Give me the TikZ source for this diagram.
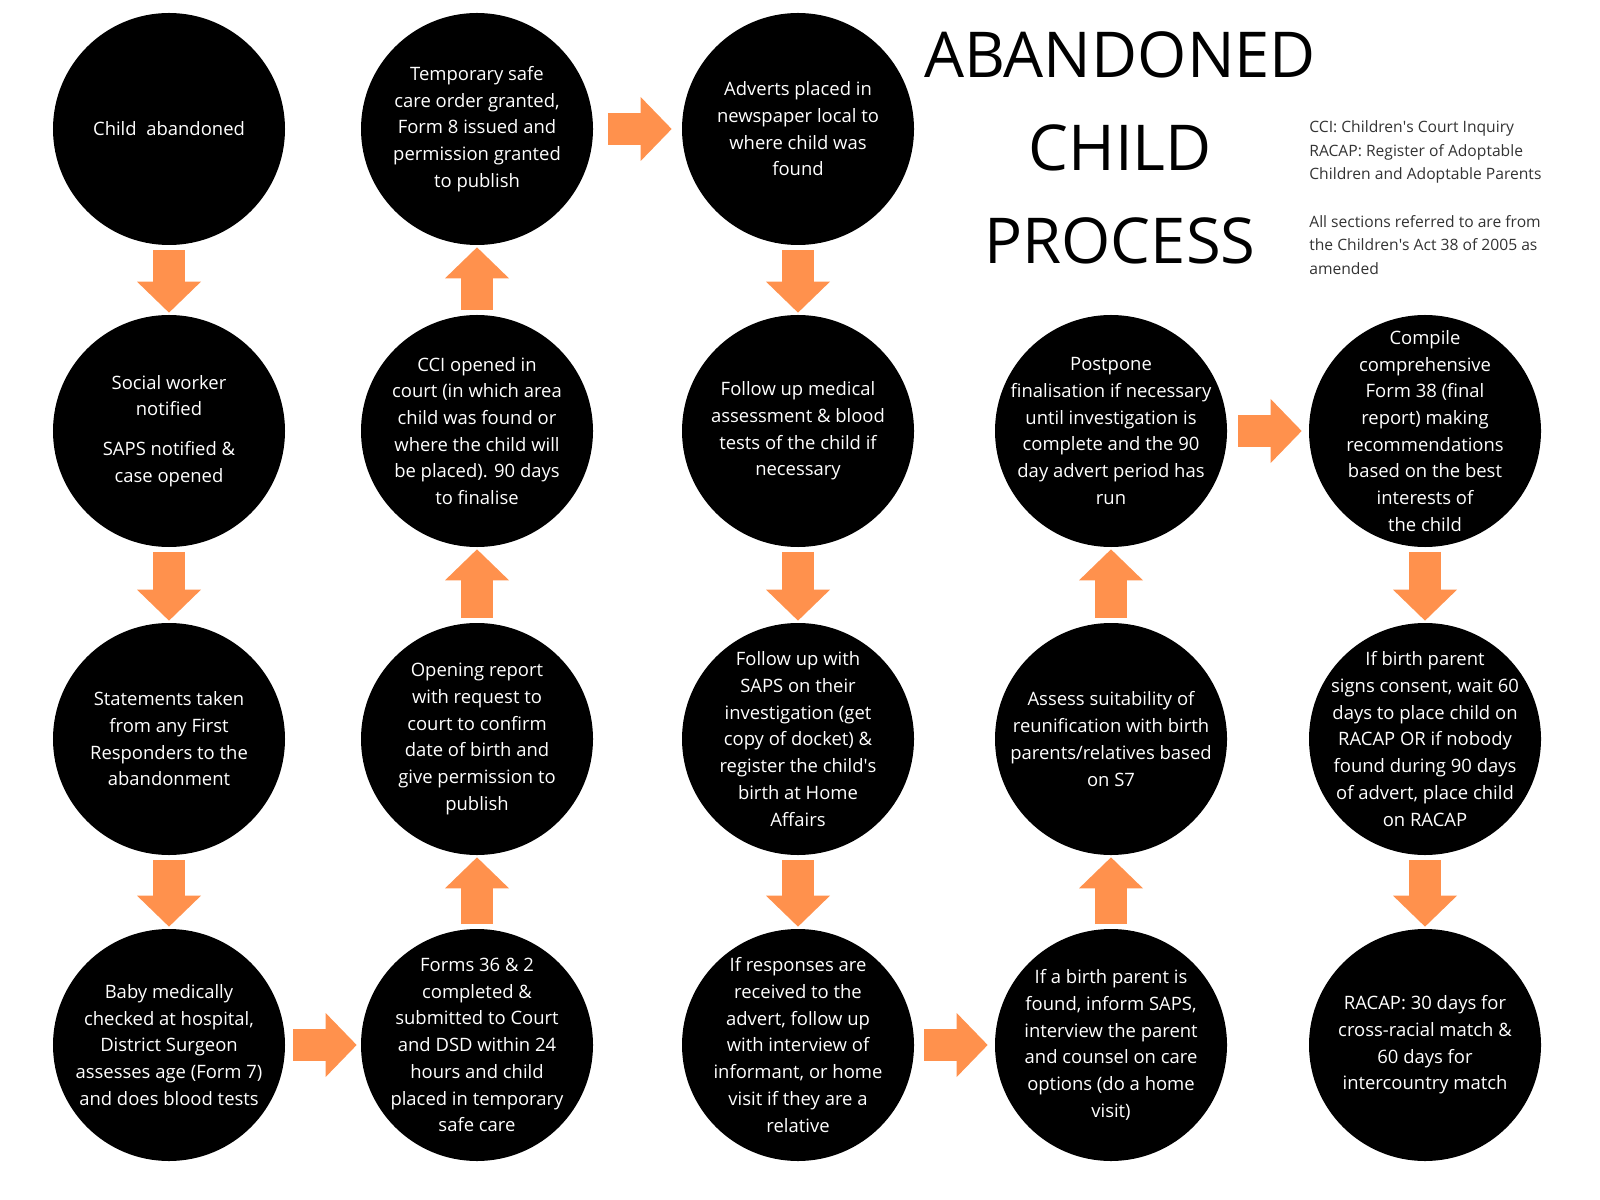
\documentclass[tikz,border=0pt]{standalone}
\usepackage{fontspec}
\setmainfont{Open Sans}
\usetikzlibrary{arrows.meta}
\definecolor{tangerine}{HTML}{FF914D}

\begin{document}
\begin{tikzpicture}[
  stage/.style={circle,fill=black,minimum size=46.4mm,inner sep=0pt,
    label={[text=white,align=center,inner sep=0pt,font=\fontsize{10.5}{15.2}\selectfont]center:#1}},
  flow/.style={draw=tangerine,line width=6.4mm,shorten <=0.9mm,shorten >=0.4mm,-{Triangle[width=12.8mm,length=6.2mm,line width=0pt]}},
  note/.style={anchor=west,align=left,inner sep=0pt,text=black!80,font=\fontsize{8.9}{13.3}\selectfont},
  x=0.2mm, y=-0.2mm]
  \useasboundingbox (0,0) rectangle (1600,1200);
  % title and notes
  \node[align=center,inner sep=0pt,font=\fontsize{36}{52.9}\selectfont] (title) at (1120,148) {ABANDONED\\CHILD\\PROCESS};
  \node[note] (abbr) at (1309,152) {CCI: Children\textquotesingle s Court Inquiry\\RACAP: Register of Adoptable\\Children and Adoptable Parents};
  \node[note] (act) at (1309,245) {All sections referred to are from\\the Children\textquotesingle s Act 38 of 2005 as\\amended};
  % column 1
  \node[stage={Child\ \ abandoned}] (s1) at (169,129) {};
  \node[stage={Social worker\\notified\\[0.7em]SAPS notified \&\\case opened}] (s2) at (169,431) {};
  \node[stage={Statements taken\\from any First\\Responders to the\\abandonment}] (s3) at (169,739) {};
  \node[stage={Baby medically\\checked at hospital,\\District Surgeon\\assesses age (Form 7)\\and does blood tests}] (s4) at (169,1045) {};
  % column 2
  \node[stage={Forms 36 \& 2\\completed \&\\submitted to Court\\and DSD within 24\\hours and child\\placed in temporary\\safe care}] (s5) at (477,1045) {};
  \node[stage={Opening report\\with request to\\court to confirm\\date of birth and\\give permission to\\publish}] (s6) at (477,739) {};
  \node[stage={CCI opened in\\court (in which area\\child was found or\\where the child will\\be placed). 90 days\\to finalise}] (s7) at (477,431) {};
  \node[stage={Temporary safe\\care order granted,\\Form 8 issued and\\permission granted\\to publish}] (s8) at (477,129) {};
  % column 3
  \node[stage={Adverts placed in\\newspaper local to\\where child was\\found}] (s9) at (798,129) {};
  \node[stage={Follow up medical\\assessment \& blood\\tests of the child if\\necessary}] (s10) at (798,431) {};
  \node[stage={Follow up with\\SAPS on their\\investigation (get\\copy of docket) \&\\register the child\textquotesingle s\\birth at Home\\Affairs}] (s11) at (798,739) {};
  \node[stage={If responses are\\received to the\\advert, follow up\\with interview of\\informant, or home\\visit if they are a\\relative}] (s12) at (798,1045) {};
  % column 4
  \node[stage={If a birth parent is\\found, inform SAPS,\\interview the parent\\and counsel on care\\options (do a home\\visit)}] (s13) at (1111,1045) {};
  \node[stage={Assess suitability of\\reunification with birth\\parents/relatives based\\on S7}] (s14) at (1111,739) {};
  \node[stage={Postpone\\finalisation if necessary\\until investigation is\\complete and the 90\\day advert period has\\run}] (s15) at (1111,431) {};
  % column 5
  \node[stage={Compile\\comprehensive\\Form 38 (final\\report) making\\recommendations\\based on the best\\interests of\\the child}] (s16) at (1425,431) {};
  \node[stage={If birth parent\\signs consent, wait 60\\days to place child on\\RACAP OR if nobody\\found during 90 days\\of advert, place child\\on RACAP}] (s17) at (1425,739) {};
  \node[stage={RACAP: 30 days for\\cross-racial match \&\\60 days for\\intercountry match}] (s18) at (1425,1045) {};
  % arrows (down/up columns, then the sideways ones)
  \foreach \a/\b in {s1/s2,s2/s3,s3/s4,s5/s6,s6/s7,s7/s8,s9/s10,s10/s11,s11/s12,s13/s14,s14/s15,s16/s17,s17/s18}
    \draw[flow] (\a) -- (\b);
  \foreach \a/\b/\s/\e in {s4/s5/1.6mm/0.8mm,s8/s9/2.9mm/2mm,s12/s13/2mm/1.4mm,s15/s16/2.2mm/1.4mm}
    \draw[flow,shorten <=\s,shorten >=\e] (\a) -- (\b);
\end{tikzpicture}
\end{document}
